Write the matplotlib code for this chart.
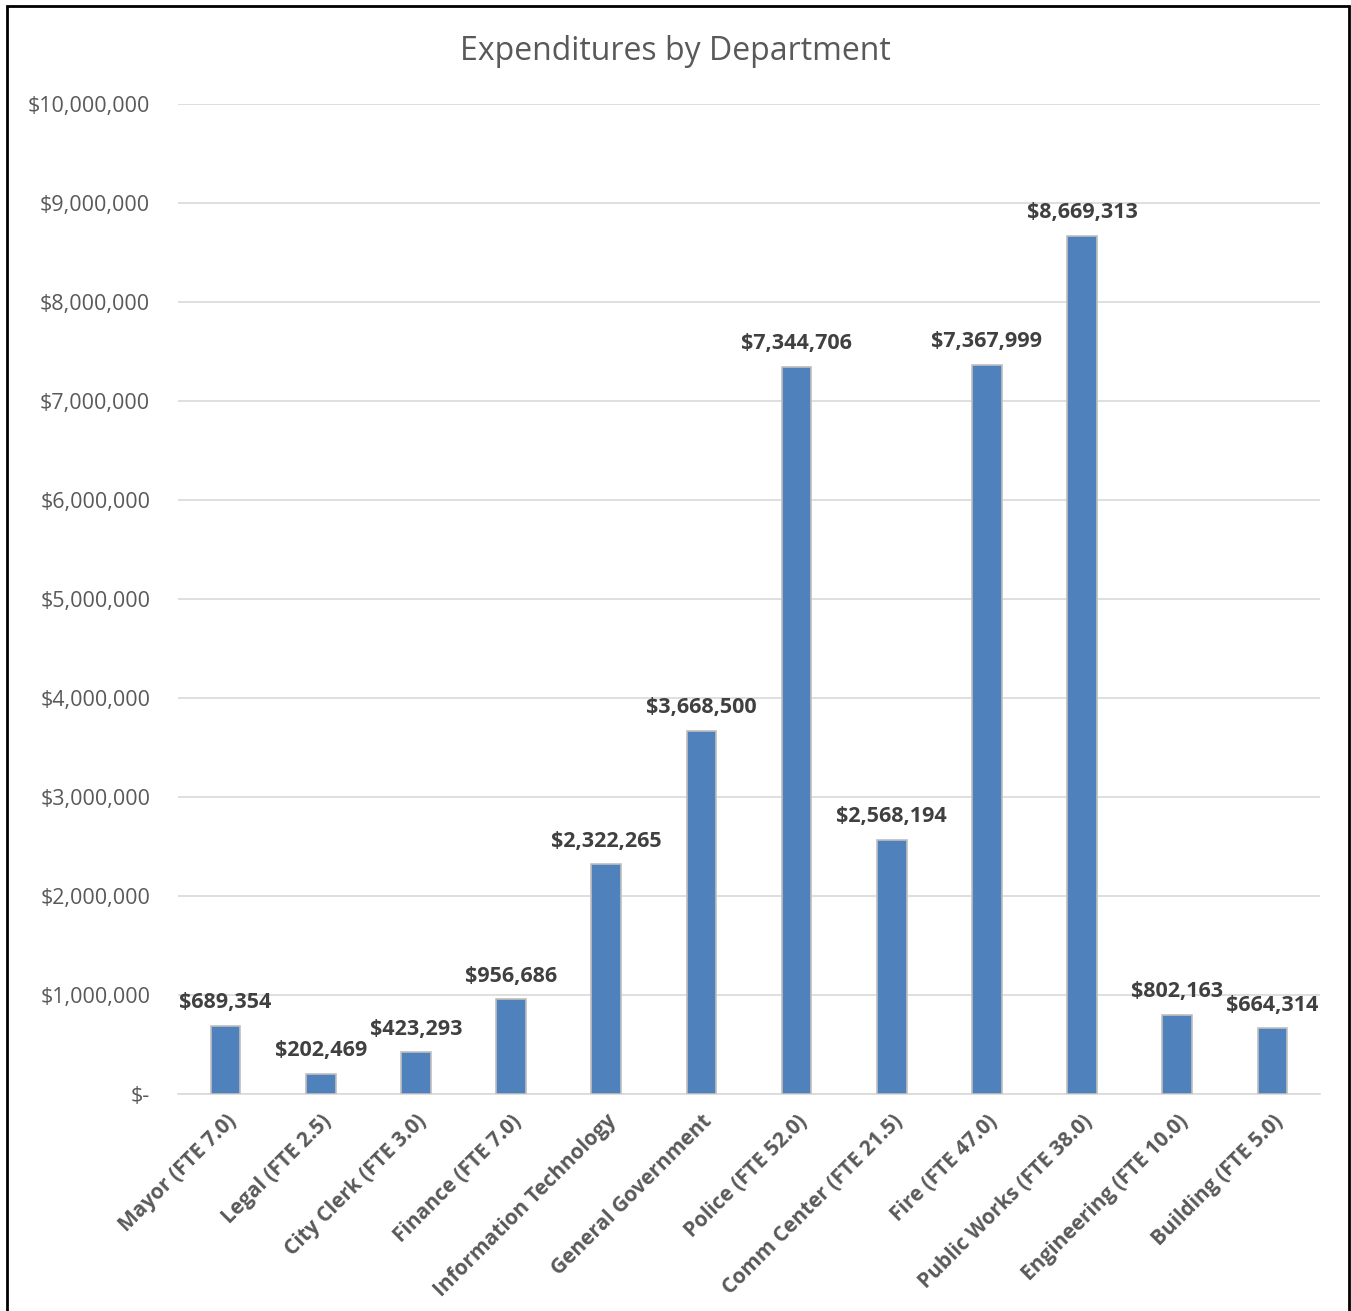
import numpy as np
import matplotlib
matplotlib.use('Agg')
import matplotlib.pyplot as plt
from matplotlib.ticker import FuncFormatter
from matplotlib.patches import Rectangle

departments = ['Mayor (FTE 7.0)', 'Legal (FTE 2.5)', 'City Clerk (FTE 3.0)', 'Finance (FTE 7.0)',
               'Information Technology', 'General Government', 'Police (FTE 52.0)',
               'Comm Center (FTE 21.5)', 'Fire (FTE 47.0)', 'Public Works (FTE 38.0)',
               'Engineering (FTE 10.0)', 'Building (FTE 5.0)']
spending = [689354, 202469, 423293, 956686, 2322265, 3668500, 7344706,
            2568194, 7367999, 8669313, 802163, 664314]

plt.rcParams['font.family'] = ['Open Sans', 'DejaVu Sans']

def money(v, pos):
    if v == 0:
        return '$-'
    return '${:,.0f}'.format(v)

fig = plt.figure(figsize=(13.51, 13.11), dpi=100)
ax = fig.add_axes([178/1351, 1-1094/1311, (1320-178)/1351, (1094-104)/1311])

x = np.arange(len(departments))
ax.bar(x, spending, width=0.31, color='#4f81bd', edgecolor='#bfbfbf', linewidth=1.2, zorder=3)
for xi, v in zip(x, spending):
    ax.annotate('${:,.0f}'.format(v), (xi, v), xytext=(0, 9), textcoords='offset points',
                ha='center', va='bottom', fontsize=15.5, fontweight='bold', color='#404040')

ax.set_xlim(-0.5, len(departments) - 0.5)
ax.set_ylim(0, 10000000)
ax.set_yticks(np.arange(0, 10000001, 1000000))
ax.yaxis.set_major_formatter(FuncFormatter(money))
ax.grid(axis='y', color='#d9d9d9', linewidth=1.2, zorder=0)
for s in ['top', 'right', 'left']:
    ax.spines[s].set_visible(False)
ax.spines['bottom'].set_color('#d9d9d9')
ax.spines['bottom'].set_linewidth(1.2)
ax.tick_params(axis='both', length=0, colors='#595959', labelsize=15.5)
ax.tick_params(axis='y', pad=20)
ax.set_xticks(x)
ax.set_xticklabels(departments, rotation=45, ha='right', rotation_mode='anchor',
                   fontweight='bold', fontsize=15)
ax.tick_params(axis='x', pad=12)

fig.text(0.5, 1-52/1311, 'Expenditures by Department', ha='center', va='center',
         fontsize=23, color='#595959')

fig.patches.append(Rectangle((7/1351, -0.01), 1342/1351, 1.01 - 6/1311, transform=fig.transFigure,
                             fill=False, edgecolor='black', linewidth=2))

fig.savefig('out.png', dpi=100)
